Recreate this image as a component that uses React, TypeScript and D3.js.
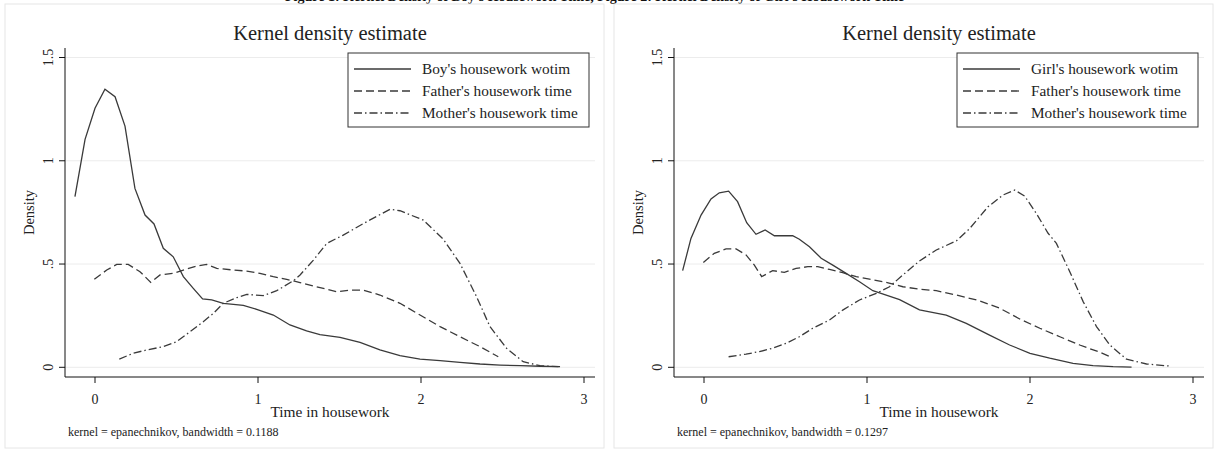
import React from "react";
import { scaleLinear, line } from "d3";

// density curves: [time, density]
const boyDensity: [number, number][] = [
  [-0.123, 0.826], [-0.061, 1.104], [0, 1.254], [0.061, 1.346], [0.123, 1.31],
  [0.184, 1.168], [0.245, 0.866], [0.307, 0.737], [0.362, 0.694], [0.419, 0.576],
  [0.48, 0.535], [0.542, 0.439], [0.603, 0.382], [0.66, 0.331], [0.716, 0.326],
  [0.787, 0.31], [0.849, 0.305], [0.91, 0.3], [0.992, 0.281], [1.094, 0.253],
  [1.196, 0.205], [1.298, 0.176], [1.38, 0.158], [1.503, 0.145], [1.626, 0.121],
  [1.748, 0.084], [1.871, 0.056], [1.994, 0.04], [2.117, 0.032], [2.239, 0.024],
  [2.362, 0.016], [2.485, 0.011], [2.607, 0.008], [2.73, 0.005], [2.853, 0.003],
];
const boyFather: [number, number][] = [
  [-0.004, 0.426], [0.072, 0.471], [0.133, 0.498], [0.204, 0.498], [0.276, 0.463],
  [0.342, 0.411], [0.399, 0.447], [0.48, 0.455], [0.542, 0.471], [0.624, 0.49],
  [0.685, 0.498], [0.747, 0.479], [0.849, 0.471], [0.931, 0.466], [1.012, 0.455],
  [1.094, 0.439], [1.176, 0.426], [1.258, 0.41], [1.36, 0.39], [1.482, 0.366],
  [1.564, 0.374], [1.646, 0.374], [1.748, 0.35], [1.871, 0.31], [1.994, 0.253],
  [2.117, 0.197], [2.239, 0.148], [2.362, 0.1], [2.474, 0.051],
];
const boyMother: [number, number][] = [
  [0.149, 0.04], [0.235, 0.068], [0.317, 0.084], [0.419, 0.1], [0.501, 0.124],
  [0.583, 0.172], [0.664, 0.221], [0.726, 0.261], [0.787, 0.31], [0.869, 0.337],
  [0.931, 0.353], [1.033, 0.347], [1.115, 0.371], [1.217, 0.419], [1.258, 0.447],
  [1.34, 0.519], [1.422, 0.6], [1.523, 0.64], [1.667, 0.705], [1.81, 0.765],
  [1.871, 0.758], [2.014, 0.713], [2.137, 0.62], [2.239, 0.503], [2.341, 0.342],
  [2.423, 0.197], [2.525, 0.092], [2.627, 0.027], [2.73, 0.008], [2.843, 0.003],
];

const girlDensity: [number, number][] = [
  [-0.131, 0.468], [-0.08, 0.624], [-0.018, 0.737], [0.043, 0.815], [0.094, 0.845],
  [0.151, 0.853], [0.206, 0.802], [0.262, 0.7], [0.319, 0.644], [0.375, 0.665],
  [0.432, 0.637], [0.544, 0.637], [0.585, 0.62], [0.647, 0.584], [0.719, 0.528],
  [0.79, 0.495], [0.872, 0.455], [0.954, 0.414], [1.036, 0.371], [1.118, 0.35],
  [1.2, 0.328], [1.322, 0.278], [1.486, 0.253], [1.609, 0.213], [1.752, 0.156],
  [1.875, 0.108], [2.0, 0.068], [2.121, 0.044], [2.264, 0.019], [2.387, 0.008],
  [2.51, 0.003], [2.623, 0.001],
];
const girlFather: [number, number][] = [
  [-0.004, 0.508], [0.063, 0.552], [0.135, 0.573], [0.197, 0.573], [0.258, 0.544],
  [0.309, 0.495], [0.354, 0.439], [0.421, 0.468], [0.493, 0.46], [0.565, 0.479],
  [0.637, 0.487], [0.698, 0.487], [0.77, 0.474], [0.851, 0.458], [0.934, 0.439],
  [1.015, 0.427], [1.118, 0.411], [1.22, 0.39], [1.322, 0.378], [1.425, 0.371],
  [1.548, 0.35], [1.691, 0.322], [1.814, 0.286], [1.937, 0.234], [2.06, 0.189],
  [2.183, 0.148], [2.305, 0.108], [2.428, 0.073], [2.5, 0.048],
];
const girlMother: [number, number][] = [
  [0.151, 0.051], [0.258, 0.064], [0.34, 0.076], [0.421, 0.092], [0.504, 0.116],
  [0.585, 0.148], [0.667, 0.189], [0.77, 0.229], [0.851, 0.277], [0.954, 0.326],
  [1.057, 0.358], [1.138, 0.39], [1.22, 0.447], [1.322, 0.515], [1.425, 0.568],
  [1.548, 0.612], [1.63, 0.672], [1.742, 0.777], [1.834, 0.834], [1.906, 0.858],
  [1.967, 0.829], [2.039, 0.745], [2.111, 0.649], [2.162, 0.6], [2.244, 0.463],
  [2.326, 0.318], [2.408, 0.197], [2.49, 0.108], [2.592, 0.039], [2.715, 0.016],
  [2.858, 0.006],
];

const xTicks = [0, 1, 2, 3];
const yTicks = [0, 0.5, 1, 1.5];
const yTickLabels = ["0", ".5", "1", "1.5"];

const boyLegend = ["Boy's housework wotim", "Father's housework time", "Mother's housework time"];
const girlLegend = ["Girl's housework wotim", "Father's housework time", "Mother's housework time"];
const boyNote = "kernel = epanechnikov, bandwidth = 0.1188";
const girlNote = "kernel = epanechnikov, bandwidth = 0.1297";

const FONT = "'Liberation Serif', 'Times New Roman', serif";
const INK = "#3a3a3a";
const dashes = [null, "8,4", "8,3,1.5,3"];

type PanelProps = {
  dx: number;
  series: [number, number][][];
  legend: string[];
  note: string;
};

const Panel = ({ dx, series, legend, note }: PanelProps) => {
  const left = 65 + dx;
  const right = 595 + dx;
  const top = 48;
  const bottom = 377;
  const x = scaleLinear().domain([0, 3]).range([95 + dx, 584 + dx]);
  const y = scaleLinear().domain([0, 1.5]).range([367.3, 57.5]);
  const path = line<[number, number]>()
    .x((d) => x(d[0]))
    .y((d) => y(d[1]));
  const midX = (left + right) / 2;
  const lx = 348 + dx;

  return (
    <g fontFamily={FONT}>
      <rect x={5 + dx} y={4} width={599} height={444} fill="none" stroke="#e6e6e6" />
      <text x={midX} y={40} textAnchor="middle" fontSize={20.5} fill="#222">
        Kernel density estimate
      </text>
      {yTicks.map((t) => (
        <line key={"g" + t} x1={left} x2={right} y1={y(t)} y2={y(t)} stroke="#ececec" strokeWidth={1} />
      ))}
      {series.map((s, i) => (
        <path
          key={i}
          d={path(s) || ""}
          fill="none"
          stroke={INK}
          strokeWidth={1.3}
          strokeDasharray={dashes[i] || undefined}
        />
      ))}
      <line x1={left} x2={left} y1={top} y2={bottom} stroke="#111" />
      <line x1={left} x2={right} y1={bottom} y2={bottom} stroke="#111" />
      {yTicks.map((t, i) => (
        <g key={"y" + t}>
          <line x1={left - 6} x2={left} y1={y(t)} y2={y(t)} stroke="#111" />
          <text
            transform={`translate(${left - 12},${y(t)}) rotate(-90)`}
            textAnchor="middle"
            fontSize={14}
            fill="#222"
          >
            {yTickLabels[i]}
          </text>
        </g>
      ))}
      {xTicks.map((t) => (
        <g key={"x" + t}>
          <line x1={x(t)} x2={x(t)} y1={bottom} y2={bottom + 6} stroke="#111" />
          <text x={x(t)} y={404} textAnchor="middle" fontSize={14} fill="#222">
            {t}
          </text>
        </g>
      ))}
      <text transform={`translate(${left - 31},${(top + bottom) / 2}) rotate(-90)`} textAnchor="middle" fontSize={14.5} fill="#222">
        Density
      </text>
      <text x={midX} y={417} textAnchor="middle" fontSize={15.4} fill="#222">
        Time in housework
      </text>
      <text x={68 + dx} y={436} fontSize={12} fill="#222">
        {note}
      </text>
      <rect x={lx} y={53} width={241} height={74} fill="#fff" stroke="#333" />
      {legend.map((name, i) => (
        <g key={name}>
          <line
            x1={lx + 6}
            x2={lx + 63}
            y1={69 + i * 22}
            y2={69 + i * 22}
            stroke={INK}
            strokeWidth={1.3}
            strokeDasharray={dashes[i] || undefined}
          />
          <text x={lx + 74} y={74 + i * 22} fontSize={15.3} fill="#222">
            {name}
          </text>
        </g>
      ))}
    </g>
  );
};

export default function App() {
  return (
    <svg
      width={1215}
      height={450}
      style={{ position: "absolute", left: 0, top: 0, background: "#fff" }}
    >
      <text x={285} y={1} fontFamily={FONT} fontWeight="bold" fontSize={14} fill="#111">
        Figure 1: Kernel Density of Boy's Housework Time, Figure 2: Kernel Density of Girl's Housework Time
      </text>
      <Panel dx={0} series={[boyDensity, boyFather, boyMother]} legend={boyLegend} note={boyNote} />
      <Panel dx={609} series={[girlDensity, girlFather, girlMother]} legend={girlLegend} note={girlNote} />
    </svg>
  );
}
